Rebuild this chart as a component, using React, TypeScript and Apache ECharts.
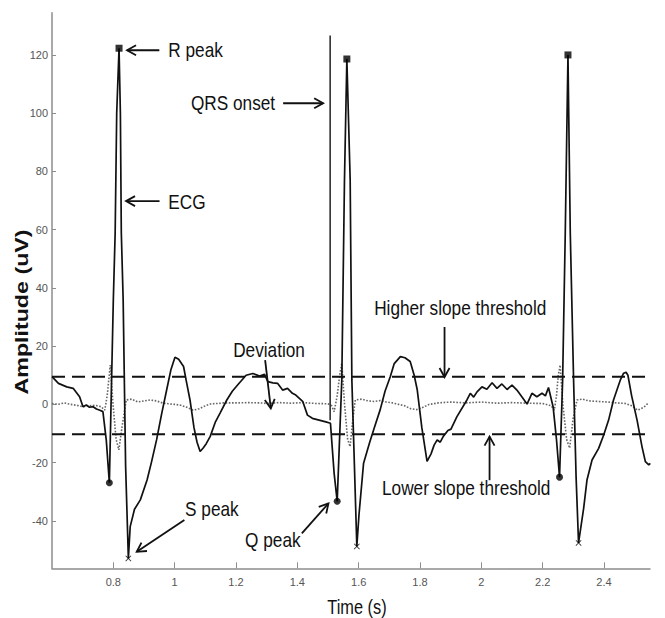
import React, { useEffect, useRef } from "react";
import * as echarts from "echarts";

const xTicks = [0.8, 1, 1.2, 1.4, 1.6, 1.8, 2, 2.2, 2.4];
const yTicks = [-40, -20, 0, 20, 40, 60, 80, 100, 120];

const ecg: [number, number][] = [
  [0.6, 9.5], [0.621, 7.2], [0.648, 6.0], [0.669, 5.5], [0.69, 2.6], [0.701, -0.8],
  [0.712, -0.2], [0.722, -1.0], [0.734, -0.8], [0.745, -1.6], [0.756, -2.0], [0.766, -2.5],
  [0.777, -12.3], [0.787, -26.9], [0.8, 36], [0.806, 59], [0.811, 100], [0.8186, 122.3],
  [0.823, 100], [0.826, 59], [0.832, 36], [0.84, -21], [0.849, -52.9], [0.855, -42],
  [0.869, -36], [0.888, -32.8], [0.91, -26], [0.924, -20], [0.941, -12.2], [0.958, -3],
  [0.974, 5], [0.988, 12], [1.001, 16.2], [1.013, 15.5], [1.029, 13], [1.038, 8],
  [1.05, 1.5], [1.063, -8], [1.073, -13], [1.083, -16.2], [1.093, -15], [1.103, -13.5],
  [1.116, -11], [1.133, -6], [1.148, -3], [1.17, 1.5], [1.188, 4.5], [1.208, 7],
  [1.233, 10], [1.255, 10.6], [1.277, 9.7], [1.293, 10.3], [1.304, 7.8], [1.32, 7.4],
  [1.336, 7.2], [1.352, 4.9], [1.368, 5.5], [1.384, 3.8], [1.395, 3.2], [1.412, 1.5],
  [1.418, 0.9], [1.433, -3.7], [1.449, -4.8], [1.471, -5.4], [1.493, -6.0], [1.508, -6.5],
  [1.52, -23.7], [1.53, -33.3], [1.545, 8.4], [1.5537, 77], [1.5615, 118.6], [1.5723, 77],
  [1.5778, 8.4], [1.594, -48.8], [1.601, -38], [1.616, -20.2], [1.636, -13], [1.651, -8],
  [1.67, -1.9], [1.686, 4.5], [1.703, 9.5], [1.716, 14], [1.736, 16.4], [1.751, 16],
  [1.768, 14.7], [1.781, 10], [1.791, 5], [1.806, -8], [1.823, -19.6], [1.836, -17],
  [1.846, -14], [1.856, -12.2], [1.866, -13], [1.876, -11], [1.891, -9], [1.901, -8.5],
  [1.92, -4.3], [1.953, 1.5], [1.964, 3.8], [1.975, 2.5], [1.986, 4.3], [2.002, 6.0],
  [2.018, 5.2], [2.035, 7.4], [2.051, 5.5], [2.067, 7.0], [2.084, 5.1], [2.1, 6.6],
  [2.116, 4.9], [2.132, 2.6], [2.149, 0.1], [2.165, 3.8], [2.181, 2.6], [2.198, 3.8],
  [2.209, 2.9], [2.219, 5.8], [2.234, -0.8], [2.245, -12], [2.255, -25], [2.265, 8],
  [2.2737, 59], [2.2825, 120], [2.29, 59], [2.3009, 8], [2.309, -25], [2.317, -47.6],
  [2.3335, -35.8], [2.3445, -26], [2.361, -19.1], [2.3825, -15.1], [2.399, -10.5],
  [2.415, -5.4], [2.431, 1.5], [2.453, 8.3], [2.464, 10.7], [2.472, 11], [2.478, 10],
  [2.49, 3], [2.508, -5.5], [2.524, -14.6], [2.535, -19.7], [2.546, -20.8], [2.551, -20.3],
];

const deviation: [number, number][] = [
  [0.6, 0.3], [0.62, 0], [0.64, 0.5], [0.66, 0], [0.68, -0.3], [0.7, -0.8], [0.72, -0.5],
  [0.74, -0.3], [0.76, -0.8], [0.772, -2], [0.78, 3], [0.79, 13.5], [0.799, 0], [0.809, -12],
  [0.818, -15.6], [0.828, -8], [0.842, 1.5], [0.86, 1.8], [0.88, 0.8], [0.9, 1.2], [0.92, 1.5],
  [0.94, 1.2], [0.96, 0.5], [0.98, 0.2], [1.0, 0], [1.02, -0.3], [1.04, -1], [1.06, -2],
  [1.08, -1.5], [1.1, -0.5], [1.12, 0.2], [1.14, 0.3], [1.16, 0.5], [1.2, 0.5], [1.24, 0.6],
  [1.28, 0.5], [1.3, 0.3], [1.34, 0.6], [1.38, 0.4], [1.42, 0.6], [1.46, 0.3], [1.5, 0.2],
  [1.512, -0.5], [1.52, -2.5], [1.53, 3], [1.538, 10], [1.545, 14.1], [1.554, 0], [1.564, -12],
  [1.572, -14.5], [1.58, -6], [1.589, 1.5], [1.61, 1.8], [1.63, 1.2], [1.65, 1], [1.67, 1.3],
  [1.69, 0.8], [1.71, 0.5], [1.73, 0], [1.75, -0.5], [1.77, -1.5], [1.79, -1.8], [1.81, -1],
  [1.83, 0], [1.86, 0.5], [1.9, 0.8], [1.95, 0.5], [2.0, 0.8], [2.05, 0.4], [2.1, 0.6],
  [2.15, 0.4], [2.2, 0.3], [2.228, -0.5], [2.238, -2], [2.245, 3], [2.251, 10], [2.257, 13.5],
  [2.266, 0], [2.278, -12], [2.288, -15], [2.299, -5], [2.312, 1.5], [2.33, 1.8], [2.35, 1.2],
  [2.38, 1], [2.41, 0.8], [2.44, 0.5], [2.47, 0.3], [2.49, -0.5], [2.51, -2], [2.53, -1],
  [2.545, 0.5],
];

const rPeaks: [number, number][] = [[0.8186, 122.3], [1.5615, 118.6], [2.2825, 120]];
const qPeaks: [number, number][] = [[0.787, -26.9], [1.53, -33.3], [2.255, -25]];
const sPeaks: [number, number][] = [[0.849, -52.9], [1.594, -48.8], [2.317, -47.6]];

const higherThreshold = 9.5;
const lowerThreshold = -10.3;
const thresholdSpan = [0.6, 2.59];
const qrsOnset: [number, number][] = [[1.507, -5.5], [1.507, 126.7]];

type Ann = {
  text: string;
  at: [number, number];
  align: "left" | "center" | "right";
  tail: [number, number];
  head: [number, number];
};

const annotations: Ann[] = [
  { text: "R peak", at: [0.9794, 121.6], align: "left", tail: [0.95, 121.6], head: [0.8447, 121.6] },
  { text: "ECG", at: [0.9794, 69.6], align: "left", tail: [0.9507, 69.8], head: [0.8414, 69.8] },
  { text: "QRS onset", at: [1.3276, 103.4], align: "right", tail: [1.3537, 103.4], head: [1.4842, 103.4] },
  { text: "Deviation", at: [1.3077, 18.66], align: "center", tail: [1.295, 15.22], head: [1.3135, -1.37] },
  { text: "Higher slope threshold", at: [1.9312, 33.1], align: "center", tail: [1.88, 26.56], head: [1.88, 9.38] },
  { text: "Lower slope threshold", at: [1.9507, -28.76], align: "center", tail: [2.0268, -26.04], head: [2.0268, -11.1] },
  { text: "S peak", at: [1.0339, -35.73], align: "left", tail: [1.0316, -39.75], head: [0.8763, -50.64] },
  { text: "Q peak", at: [1.2297, -46.62], align: "left", tail: [1.4147, -44.32], head: [1.5015, -34.01] },
];

const xTitle = "Time (s)";
const yTitle = "Amplitude (uV)";

const SANS = '"Liberation Sans", Arial, sans-serif';
const AXIS_GREY = "#8c8c8c";
const CONDENSE = 0.82;

export default function App() {
  const ref = useRef<HTMLDivElement>(null);

  useEffect(() => {
    if (!ref.current) return;
    const chart = echarts.init(ref.current, undefined, { renderer: "svg" });
    const option: any = {
      animation: false,
      backgroundColor: "#ffffff",
      grid: { left: 52, right: 15, top: 12.7, bottom: 49.7, containLabel: false },
      xAxis: {
        type: "value",
        min: 0.6,
        max: 2.55,
        axisLine: { show: true, onZero: false, lineStyle: { color: AXIS_GREY, width: 1.5 } },
        axisTick: { show: true, inside: true, length: 6, customValues: xTicks, lineStyle: { color: AXIS_GREY, width: 1 } },
        axisLabel: {
          customValues: xTicks,
          color: "#555",
          fontFamily: SANS,
          fontSize: 11,
          margin: 8,
          formatter: (v: number) => String(Math.round(v * 10) / 10),
        },
        splitLine: { show: false },
      },
      yAxis: {
        type: "value",
        min: -56.3,
        max: 134.5,
        axisLine: { show: true, onZero: false, lineStyle: { color: AXIS_GREY, width: 1.5 } },
        axisTick: { show: true, inside: true, length: 4, customValues: yTicks, lineStyle: { color: AXIS_GREY, width: 1 } },
        axisLabel: {
          customValues: yTicks,
          color: "#555",
          fontFamily: SANS,
          fontSize: 11,
          margin: 4,
        },
        splitLine: { show: false },
      },
      series: [
        {
          name: "Deviation",
          type: "line",
          data: deviation,
          showSymbol: false,
          lineStyle: { color: "#666", width: 1.6, type: "dotted" },
          z: 2,
        },
        {
          name: "Higher slope threshold",
          type: "line",
          data: thresholdSpan.map((t) => [t, higherThreshold]),
          showSymbol: false,
          clip: false,
          lineStyle: { color: "#111", width: 2, type: [13, 7] },
          z: 3,
        },
        {
          name: "Lower slope threshold",
          type: "line",
          data: thresholdSpan.map((t) => [t, lowerThreshold]),
          showSymbol: false,
          clip: false,
          lineStyle: { color: "#111", width: 2, type: [13, 7] },
          z: 3,
        },
        {
          name: "QRS onset",
          type: "line",
          data: qrsOnset,
          showSymbol: false,
          lineStyle: { color: "#222", width: 1.5 },
          z: 3,
        },
        {
          name: "ECG",
          type: "line",
          data: ecg,
          showSymbol: false,
          lineStyle: { color: "#111", width: 1.7 },
          z: 4,
        },
        {
          name: "R peak",
          type: "scatter",
          data: rPeaks,
          symbol: "rect",
          symbolSize: 7,
          itemStyle: { color: "#000" },
          z: 5,
        },
        {
          name: "Q peak",
          type: "scatter",
          data: qPeaks,
          symbol: "circle",
          symbolSize: 7,
          itemStyle: { color: "#000" },
          z: 5,
        },
        {
          name: "S peak",
          type: "scatter",
          data: sPeaks,
          symbol: "path://M0 1L1 0L5 4L9 0L10 1L6 5L10 9L9 10L5 6L1 10L0 9L4 5Z",
          symbolSize: 6,
          itemStyle: { color: "#000" },
          z: 5,
        },
      ],
    };
    chart.setOption(option);

    const toPx = (p: [number, number]) =>
      chart.convertToPixel({ xAxisIndex: 0, yAxisIndex: 0 }, p) as number[];

    const graphics: any[] = [];
    annotations.forEach((a) => {
      const [tx, ty] = toPx(a.at);
      graphics.push({
        type: "text",
        x: tx,
        y: ty,
        scaleX: CONDENSE,
        z: 10,
        style: {
          text: a.text,
          font: `21px ${SANS}`,
          fill: "#111",
          align: a.align,
          verticalAlign: "middle",
        },
      });
      const T = toPx(a.tail);
      const H = toPx(a.head);
      const dx = H[0] - T[0];
      const dy = H[1] - T[1];
      const len = Math.sqrt(dx * dx + dy * dy) || 1;
      const ux = dx / len;
      const uy = dy / len;
      const L = 9;
      const W = 5;
      graphics.push({
        type: "line",
        z: 10,
        shape: { x1: T[0], y1: T[1], x2: H[0], y2: H[1] },
        style: { stroke: "#111", lineWidth: 1.8 },
      });
      graphics.push({
        type: "polyline",
        z: 10,
        shape: {
          points: [
            [H[0] - ux * L - uy * W, H[1] - uy * L + ux * W],
            [H[0], H[1]],
            [H[0] - ux * L + uy * W, H[1] - uy * L - ux * W],
          ],
        },
        style: { stroke: "#111", lineWidth: 1.8, fill: null },
      });
    });

    // Axis titles
    graphics.push({
      type: "text",
      x: 357,
      y: 607,
      scaleX: CONDENSE,
      z: 10,
      style: { text: xTitle, font: `20px ${SANS}`, fill: "#111", align: "center", verticalAlign: "middle" },
    });
    graphics.push({
      type: "text",
      x: 22,
      y: 312,
      rotation: Math.PI / 2,
      scaleX: 1.29,
      z: 10,
      style: { text: yTitle, font: `bold 18px ${SANS}`, fill: "#111", align: "center", verticalAlign: "middle" },
    });

    chart.setOption({ graphic: graphics });

    return () => chart.dispose();
  }, []);

  return (
    <div
      ref={ref}
      style={{ position: "absolute", left: 0, top: 0, width: 665, height: 618, overflow: "hidden" }}
    />
  );
}
